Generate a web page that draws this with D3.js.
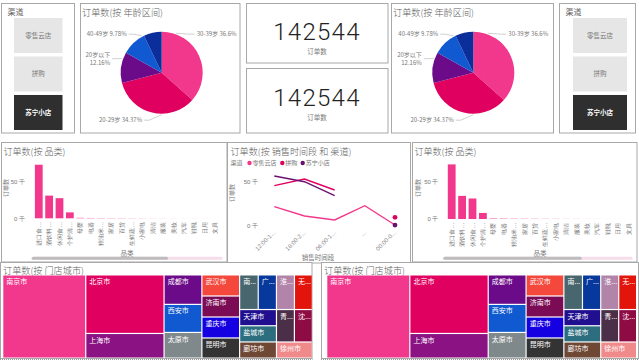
<!DOCTYPE html>
<html><head><meta charset="utf-8">
<script src="https://cdn.jsdelivr.net/npm/d3@7"></script>
<style>
html,body{margin:0;padding:0;background:#fff;}
svg{display:block;font-family:"Noto Sans CJK SC","Noto Sans",sans-serif;}
</style></head><body>
<svg id="c" width="639" height="362"></svg>
<script>
// ---------------- DATA ----------------
const channels = ["零售云店", "拼购", "苏宁小店"];
const selectedChannel = "苏宁小店";
const totalOrders = 142544;
const cardLabel = "订单数";

const ageGroups = ["30-39岁", "20-29岁", "20岁以下", "40-49岁", "50岁以上"];
const ageShares = [36.6, 34.37, 12.16, 9.78, 7.09];

const categories = ["进口食品", "酒饮料冲调", "休闲食品", "个护清洁", "母婴", "电器", "粮油米面", "家居", "百货",
  "生鲜蔬果", "小家电", "清洁", "服装", "美妆", "汽车", "鞋靴", "日用", "文具"];
const categoryOrders = [73200, 31000, 27500, 8100, 600, 450, 350, 300, 250, 200, 150, 120, 100, 80, 60, 40, 30, 14];
const categoryTicks = [0, 50000];

const timeSlots = ["12:00-18:00", "18:00-24:00", "06:00-12:00", "", "00:00-06:00"];
const ordersRetail = [21800, 11300, 6800, 22900, 1100];
const ordersPingou = [45500, 53000, 40600, null, 9800];
const ordersXiaodian = [56400, 50000, 34200, null, 1100];
const timeTicks = [0, 50000];

const cities = ["南京市", "北京市", "上海市", "成都市", "西安市", "太原市", "武汉市", "济南市", "重庆市", "昆明市",
  "南昌市", "广州市", "淮安市", "无锡市", "天津市", "盐城市", "廊坊市", "青岛市", "沈阳市", "徐州市"];
const cityOrders = [38230, 25373, 10677, 6172, 5873, 5374, 4405, 4390, 4376, 4205,
  3564, 3492, 3450, 3421, 3307, 3300, 3293, 3221, 3215, 3193];

// ---------------- STYLE ----------------
const COL = { pink: "#F2388C", crimson: "#E0005F", purple: "#6C0B8A", blue: "#1059D0", navy: "#0B2E9A", line3: "#6B1070" };
const ageColors = [COL.pink, COL.crimson, COL.purple, COL.blue, COL.navy];
const seriesColors = [COL.pink, COL.crimson, COL.line3];
const cityColors = ["#F2388C", "#E0005F", "#8A1282", "#6C0B8A", "#1059D0", "#7F898B", "#F5483D", "#7B0B55", "#1400E0", "#333333",
  "#48666E", "#07389C", "#B384AA", "#E2140B", "#20108F", "#2C6E80", "#6E4735", "#4B2E47", "#8E0B44", "#F08A8A"];
const TXT = "#666", TITLE = "#606060", BORDER = "#a8a8a8";

const svg = d3.select("#c");
const fmtK = v => (v / 1000) + " 千";

function panel(x, y, w, h) {
  svg.append("rect").attr("x", x + .5).attr("y", y + .5).attr("width", w).attr("height", h)
    .attr("fill", "#fff").attr("stroke", BORDER).attr("stroke-width", 1);
}
// title, fitted to the width it has in the reference
function title(x, y, t, targetW) {
  const el = svg.append("text").attr("x", x).attr("y", y).attr("font-size", 10).attr("font-weight", 300)
    .attr("fill", TITLE).text(t);
  const w = el.node().getComputedTextLength();
  if (targetW && w > 0) el.attr("font-size", Math.min(11, 10 * targetW / w));
}

// ---------------- SLICERS ----------------
function slicer(px, pw, bx, bw) {
  panel(px, 3, pw, 129.5);
  svg.append("text").attr("x", px + 6.5).attr("y", 14.5).attr("font-size", 8).attr("fill", TXT).text("渠道");
  const yb = d3.scaleBand().domain(channels).range([18, 130]).paddingInner(0.09);
  const g = svg.append("g");
  channels.forEach(c => {
    const sel = c === selectedChannel;
    g.append("rect").attr("x", bx).attr("y", yb(c)).attr("width", bw).attr("height", yb.bandwidth())
      .attr("fill", sel ? "#2f2f2f" : "#e6e6e6");
    g.append("text").attr("x", bx + bw / 2).attr("y", yb(c) + yb.bandwidth() / 2).attr("dy", "0.35em")
      .attr("text-anchor", "middle").attr("font-size", 6.5).attr("font-weight", sel ? "bold" : "normal")
      .attr("fill", sel ? "#fff" : "#777").text(c);
  });
}
slicer(1, 73, 14, 48.5);
slicer(559, 76, 573, 54);

// ---------------- PIES ----------------
const labelLayout = [
  { side: 1, dx: 35, dy: -38.5, two: false },
  { side: -1, dx: -19.5, dy: 47.5, two: false },
  { side: -1, dx: -51.5, dy: -18, two: true },
  { side: -1, dx: -35, dy: -38.5, two: false },
  null
];
function pieChart(px, pw, cx, cy) {
  panel(px, 3, pw, 129.5);
  title(px + 2, 15.5, "订单数(按 年龄区间)", 81);
  const r = 41;
  const data = ageGroups.map((g, i) => ({ g, s: ageShares[i], i }));
  const arcs = d3.pie().sort(null).value(d => d.s)(data);
  const arc = d3.arc().innerRadius(0).outerRadius(r);
  const g = svg.append("g").attr("transform", `translate(${cx},${cy})`);
  g.selectAll("path").data(arcs).join("path").attr("d", arc).attr("fill", d => ageColors[d.data.i]);
  arcs.forEach(a => {
    const L = labelLayout[a.data.i];
    if (!L) return;
    const ly = L.two ? L.dy + 4 : L.dy;
    let c = Math.max(-1, Math.min(1, -ly / r));
    let ang = Math.acos(c);
    if (L.side < 0) ang = 2 * Math.PI - ang;
    const pad = 0.05;
    ang = Math.max(a.startAngle + pad, Math.min(a.endAngle - pad, ang));
    const ax = (r + 1) * Math.sin(ang), ay = -(r + 1) * Math.cos(ang);
    const ex = L.dx - L.side * 2;
    const elbow = ex - L.side * 5;
    g.append("polyline").attr("points", `${ax},${ay} ${elbow},${ly} ${ex},${ly}`)
      .attr("fill", "none").attr("stroke", "#bbb").attr("stroke-width", 0.7);
    const lines = L.two ? [a.data.g, a.data.s + "%"] : [a.data.g + " " + a.data.s + "%"];
    lines.forEach((t, k) => {
      g.append("text").attr("x", L.dx).attr("y", L.dy + k * 8.5).attr("dy", "0.35em")
        .attr("text-anchor", L.side > 0 ? "start" : "end").attr("font-size", 6).attr("fill", "#777").text(t);
    });
  });
}
pieChart(80, 159.5, 161.7, 72.7);
pieChart(391, 162, 473.3, 72.7);

// ---------------- CARDS ----------------
function card(y, h, numY, labY) {
  panel(246, y, 141.5, h);
  svg.append("text").attr("x", 317).attr("y", numY).attr("text-anchor", "middle")
    .attr("font-family", "Roboto, 'DejaVu Sans', sans-serif").attr("font-weight", 300)
    .attr("font-size", 24).attr("letter-spacing", 1.3).attr("fill", "#222").text(d3.format("d")(totalOrders));
  svg.append("text").attr("x", 317).attr("y", labY).attr("dy", "0.35em").attr("text-anchor", "middle")
    .attr("font-size", 6.5).attr("fill", "#777").text(cardLabel);
}
card(3, 59.5, 39.5, 52);
card(68, 64.5, 106, 118);

// ---------------- BAR CHARTS ----------------
function barChart(o) {
  panel(o.px, 142, o.pw, 119.5);
  title(o.px + 2.5, 155, "订单数(按 品类)", 62);
  const x = d3.scaleBand().domain(categories).range([o.x0, o.x1]).paddingInner(0.25).paddingOuter(0.125);
  const y = d3.scaleLinear().domain([0, 80000]).range([o.y0, o.y0 - o.k * 80000 / 50000]);
  const g = svg.append("g");
  g.selectAll("rect").data(categories).join("rect")
    .attr("x", d => x(d)).attr("width", x.bandwidth())
    .attr("y", (d, i) => y(categoryOrders[i])).attr("height", (d, i) => y(0) - y(categoryOrders[i]))
    .attr("fill", COL.pink);
  const ya = g.append("g").attr("transform", `translate(${o.yl},0)`)
    .call(d3.axisLeft(y).tickValues(categoryTicks).tickFormat(fmtK).tickSize(0).tickPadding(0));
  ya.select(".domain").remove();
  ya.selectAll("text").attr("font-size", 6).attr("fill", "#777").attr("font-family", null);
  const xa = g.append("g").attr("transform", `translate(0,${o.y0 + 3.5})`)
    .call(d3.axisBottom(x).tickSize(0).tickPadding(0).tickFormat(d => d.length > 3 ? d.slice(0, 3) + "…" : d));
  xa.select(".domain").remove();
  xa.selectAll("text").attr("font-size", 6).attr("fill", "#777").attr("font-family", null)
    .attr("transform", "rotate(-90)").attr("text-anchor", "end").attr("x", 0).attr("y", 0).attr("dy", "0.35em");
  g.append("text").attr("transform", `translate(${o.yt},188) rotate(-90)`).attr("text-anchor", "middle")
    .attr("dy", "0.35em").attr("font-size", 6).attr("fill", "#777").text("订单数");
  g.append("text").attr("x", o.xt).attr("y", 254).attr("dy", "0.35em").attr("text-anchor", "middle")
    .attr("font-size", 6.5).attr("fill", "#777").text("品类");
  g.append("rect").attr("x", o.s0).attr("y", 256.8).attr("width", o.s2 - o.s0).attr("height", 3).attr("rx", 1.5).attr("fill", "#F7DDEA");
  g.append("rect").attr("x", o.s0).attr("y", 256.8).attr("width", o.s1 - o.s0).attr("height", 3).attr("rx", 1.5).attr("fill", "#BDBDBD");
}
barChart({ px: 1, pw: 225.5, x0: 33.6, x1: 220, y0: 218.3, k: 36.6, yl: 25, yt: 6, xt: 127, s0: 31.7, s1: 168, s2: 222.7 });
barChart({ px: 412, pw: 224.5, x0: 446.5, x1: 633.7, y0: 219, k: 37.3, yl: 438.5, yt: 418, xt: 540, s0: 443.3, s1: 581.7, s2: 632.7 });

// ---------------- LINE CHART ----------------
(function () {
  panel(227, 142, 183, 120.5);
  title(230.5, 155, "订单数(按 销售时间段 和 渠道)", 121);
  const x = d3.scalePoint().domain(d3.range(timeSlots.length)).range([274.3, 395]);
  const y = d3.scaleLinear().domain([0, 60000]).range([226, 226 - 44.3 * 60000 / 50000]);
  const g = svg.append("g");
  const lg = g.append("g").attr("font-size", 6).attr("fill", "#777");
  lg.append("text").attr("x", 230.5).attr("y", 163).attr("dy", "0.35em").text("渠道");
  const lx = [249.5, 282.3, 302.7];
  channels.forEach((c, i) => {
    lg.append("circle").attr("cx", lx[i]).attr("cy", 163).attr("r", 2.2).attr("fill", seriesColors[i]);
    lg.append("text").attr("x", lx[i] + 3).attr("y", 163).attr("dy", "0.35em").text(c);
  });
  const ya = g.append("g").attr("transform", "translate(258,0)")
    .call(d3.axisLeft(y).tickValues(timeTicks).tickFormat(fmtK).tickSize(0).tickPadding(0));
  ya.select(".domain").remove();
  ya.selectAll("text").attr("font-size", 6).attr("fill", "#777").attr("font-family", null);
  const xa = g.append("g").attr("transform", "translate(0,231)")
    .call(d3.axisBottom(x).tickSize(0).tickPadding(0)
      .tickFormat(i => { const t = timeSlots[i]; return t === "" ? "…" : t.slice(0, 7) + "…"; }));
  xa.select(".domain").remove();
  xa.selectAll("text").attr("font-size", 6).attr("fill", "#888").attr("font-family", null)
    .attr("transform", "rotate(-45)").attr("text-anchor", "end").attr("x", 0).attr("y", 0).attr("dy", "0.35em");
  g.append("text").attr("transform", "translate(232,193) rotate(-90)").attr("text-anchor", "middle")
    .attr("dy", "0.35em").attr("font-size", 6).attr("fill", "#777").text("订单数");
  g.append("text").attr("x", 318).attr("y", 258).attr("dy", "0.35em").attr("text-anchor", "middle")
    .attr("font-size", 6.5).attr("fill", "#777").text("销售时间段");
  const series = [ordersRetail, ordersPingou, ordersXiaodian];
  const line = d3.line().defined(d => d != null).x((d, i) => x(i)).y(d => y(d));
  series.forEach((s, k) => {
    g.append("path").attr("d", line(s)).attr("fill", "none").attr("stroke", seriesColors[k]).attr("stroke-width", 1.4);
    s.forEach((v, i) => {
      const iso = v != null && (i === 0 || s[i - 1] == null) && (i === s.length - 1 || s[i + 1] == null);
      if (iso) g.append("circle").attr("cx", x(i)).attr("cy", y(v)).attr("r", 2.4).attr("fill", seriesColors[k]);
    });
  });
})();

// ---------------- TREEMAPS ----------------
const rowGroups = [1, 2, 3, 4, 4, 3, 2, 1];
function groupTile(parent, x0, y0, x1, y1) {
  const nodes = parent.children;
  let value = parent.value, i0 = 0;
  rowGroups.forEach(n => {
    const kids = nodes.slice(i0, i0 + n);
    const sum = d3.sum(kids, d => d.value);
    const row = { value: sum, children: kids };
    const dx = x1 - x0, dy = y1 - y0;
    if (dx < dy) { const yy = y0 + dy * sum / value; d3.treemapDice(row, x0, y0, x1, yy); y0 = yy; }
    else { const xx = x0 + dx * sum / value; d3.treemapSlice(row, x0, y0, xx, y1); x0 = xx; }
    value -= sum; i0 += n;
  });
}
function treemapChart(px, pw, tx0, tw) {
  svg.append("rect").attr("x", px + .5).attr("y", 262.5).attr("width", pw).attr("height", 96)
    .attr("fill", "#fff").attr("stroke", BORDER);
  svg.append("line").attr("x1", px).attr("x2", px + pw + 1).attr("y1", 359.5).attr("y2", 359.5)
    .attr("stroke", "#999").attr("stroke-dasharray", "1,1");
  title(px + 3, 273.5, "订单数(按 门店城市)", 81);
  const root = d3.hierarchy({ children: cities.map((c, i) => ({ name: c, v: cityOrders[i], i })) })
    .sum(d => d.v || 0).sort((a, b) => b.value - a.value);
  d3.treemap().tile(groupTile).size([tw, 82]).paddingInner(1.2)(root);
  const g = svg.append("g").attr("transform", `translate(${tx0},275.5)`);
  const cell = g.selectAll("g").data(root.leaves()).join("g").attr("transform", d => `translate(${d.x0},${d.y0})`);
  cell.append("rect").attr("width", d => d.x1 - d.x0).attr("height", d => d.y1 - d.y0)
    .attr("fill", d => cityColors[d.data.i]);
  cell.append("text").attr("x", 3).attr("y", 8.5).attr("font-size", 7).attr("fill", "#fff")
    .each(function (d) {
      const t = d3.select(this), maxW = d.x1 - d.x0 - 4;
      let s = d.data.name; t.text(s);
      while (this.getComputedTextLength() > maxW && s.length > 1) { s = s.slice(0, -1); t.text(s + "..."); }
    });
}
treemapChart(0, 311.5, 3.3, 308.4);
treemapChart(321, 317, 327.3, 308.7);
</script>
</body></html>
